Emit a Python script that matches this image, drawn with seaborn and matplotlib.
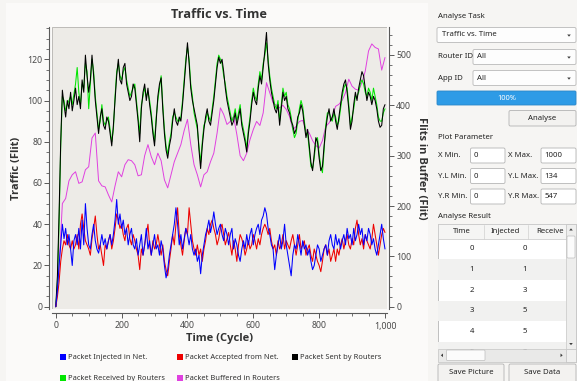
import numpy as np
import pandas as pd
import matplotlib
matplotlib.use("Agg")
import matplotlib.pyplot as plt
import seaborn as sns
from matplotlib.patches import Rectangle, FancyBboxPatch, Polygon
from matplotlib.lines import Line2D
from matplotlib.ticker import MultipleLocator, FuncFormatter

# ---------------- data ----------------
cycles5 = list(range(0, 1001, 5))
cycles10 = list(range(0, 1001, 10))

sent_by_routers = [
    0, 15, 45, 80, 105, 98, 92, 100, 96, 104, 95, 100, 106, 98, 102, 96, 110, 104, 122, 112,
    104, 110, 122, 112, 100, 92, 84, 92, 96, 88, 86, 92, 90, 84, 78, 88, 100, 112, 120, 110,
    108, 116, 118, 108, 104, 100, 102, 108, 106, 98, 90, 80, 96, 104, 108, 100, 106, 98, 92, 84,
    78, 90, 102, 108, 111, 96, 84, 76, 72, 78, 82, 90, 96, 90, 88, 92, 90, 98, 108, 118,
    128, 118, 106, 100, 96, 92, 88, 76, 67, 78, 86, 92, 96, 90, 88, 94, 100, 108, 116, 121,
    118, 120, 114, 106, 100, 96, 92, 88, 90, 94, 88, 92, 96, 88, 84, 80, 75, 84, 90, 98,
    104, 100, 98, 106, 112, 108, 116, 124, 133, 118, 110, 104, 100, 96, 94, 98, 88, 96, 104, 100,
    102, 96, 94, 90, 88, 84, 86, 92, 94, 98, 95, 88, 82, 86, 78, 70, 66, 74, 82, 80,
    72, 66, 68, 78, 86, 92, 96, 90, 92, 96, 90, 86, 92, 98, 104, 108, 110, 104, 96, 86,
    90, 98, 104, 100, 106, 110, 114, 112, 106, 100, 104, 102, 98, 102, 100, 96, 90, 87, 88, 96,
    98]

received_by_routers = [
    0, 12, 40, 78, 102, 100, 95, 98, 100, 102, 98, 103, 108, 116, 104, 98, 108, 106, 118, 114,
    96, 108, 120, 114, 102, 94, 86, 90, 98, 90, 88, 90, 92, 86, 80, 86, 102, 114, 118, 112,
    110, 114, 116, 110, 106, 102, 104, 106, 108, 100, 92, 84, 98, 102, 106, 102, 104, 100, 94, 86,
    80, 92, 100, 106, 112, 98, 86, 78, 74, 80, 84, 92, 94, 92, 90, 90, 92, 100, 110, 120,
    126, 120, 108, 102, 94, 90, 86, 78, 70, 80, 88, 90, 94, 92, 90, 96, 102, 110, 118, 122,
    120, 118, 112, 108, 102, 98, 94, 90, 92, 96, 90, 94, 98, 90, 86, 82, 77, 86, 92, 100,
    106, 102, 100, 108, 114, 110, 118, 122, 128, 120, 112, 106, 102, 98, 96, 100, 90, 98, 106, 102,
    104, 98, 96, 92, 86, 82, 84, 90, 96, 100, 97, 90, 84, 84, 76, 68, 67, 72, 80, 82,
    74, 68, 65, 76, 88, 94, 94, 92, 90, 94, 92, 88, 90, 96, 102, 106, 108, 106, 98, 88,
    92, 96, 102, 102, 104, 108, 110, 108, 104, 102, 106, 104, 100, 106, 102, 98, 92, 90, 90, 94,
    96]

injected_in_net = [
    0, 8, 20, 30, 40, 33, 38, 30, 35, 28, 20, 32, 35, 30, 38, 28, 42, 30, 50, 38,
    30, 28, 35, 40, 32, 28, 26, 30, 35, 30, 33, 28, 32, 35, 30, 35, 42, 52, 40, 45,
    38, 42, 35, 38, 30, 35, 38, 30, 28, 33, 25, 30, 35, 25, 30, 38, 28, 32, 25, 30,
    35, 28, 30, 25, 32, 28, 20, 14, 18, 25, 30, 35, 40, 48, 40, 30, 35, 28, 33, 38,
    35, 30, 35, 28, 25, 28, 22, 25, 16, 25, 30, 35, 38, 42, 36, 40, 46, 40, 35, 38,
    40, 35, 32, 38, 35, 30, 35, 38, 28, 33, 30, 25, 22, 28, 32, 28, 35, 30, 35, 38,
    30, 35, 38, 40, 35, 42, 44, 48, 45, 38, 35, 30, 28, 18, 25, 30, 35, 28, 32, 40,
    30, 25, 20, 15, 25, 30, 28, 35, 30, 25, 32, 28, 30, 25, 28, 22, 18, 20, 25, 30,
    28, 22, 25, 28, 30, 25, 32, 35, 30, 28, 35, 30, 33, 28, 32, 35, 30, 38, 33, 35,
    30, 38, 32, 35, 40, 35, 38, 30, 35, 32, 38, 35, 30, 33, 28, 25, 30, 35, 40, 33,
    28]

accepted_from_net = [
    0, 5, 12, 22, 28, 32, 30, 35, 30, 28, 32, 28, 30, 35, 28, 40, 45, 38, 32, 30,
    28, 25, 33, 38, 44, 35, 28, 30, 25, 20, 30, 28, 32, 35, 28, 32, 38, 45, 42, 38,
    40, 35, 32, 38, 40, 33, 30, 35, 32, 28, 25, 18, 28, 25, 30, 35, 40, 30, 25, 32,
    28, 30, 35, 30, 25, 30, 22, 18, 15, 22, 28, 35, 30, 40, 48, 35, 30, 25, 32, 38,
    35, 48, 40, 32, 28, 25, 30, 25, 28, 22, 28, 32, 38, 35, 40, 42, 38, 35, 30, 33,
    38, 40, 35, 30, 33, 36, 30, 25, 32, 28, 22, 30, 35, 33, 30, 25, 28, 32, 28, 30,
    35, 32, 28, 33, 30, 35, 38, 40, 38, 35, 38, 32, 28, 30, 25, 32, 28, 30, 35, 28,
    32, 30, 28, 32, 35, 30, 25, 30, 35, 28, 30, 32, 25, 28, 30, 25, 22, 28, 25, 22,
    20, 17, 22, 28, 30, 25, 28, 22, 25, 28, 22, 28, 25, 30, 33, 28, 32, 35, 30, 28,
    33, 30, 38, 42, 35, 30, 33, 28, 35, 32, 30, 28, 33, 40, 35, 30, 25, 30, 35, 38,
    36]

buffered_in_routers = [
    0, 80, 205, 215, 250, 262, 268, 245, 248, 272,
    278, 335, 345, 250, 240, 238, 222, 208, 240, 268,
    258, 282, 292, 290, 282, 260, 262, 300, 322, 298,
    282, 305, 290, 252, 236, 262, 288, 305, 322, 350,
    372, 322, 282, 262, 238, 262, 268, 288, 305, 345,
    395, 382, 362, 368, 378, 342, 300, 290, 305, 332,
    352, 368, 360, 385, 445, 425, 405, 400, 395, 400,
    392, 378, 352, 358, 368, 370, 352, 345, 330, 320,
    315, 330, 358, 365, 378, 398, 402, 410, 425, 452,
    438, 432, 430, 445, 468, 508, 522, 515, 512, 470,
    495]

series_labels = ["Packet Injected in Net.", "Packet Accepted from Net.",
                 "Packet Sent by Routers", "Packet Received by Routers",
                 "Packet Buffered in Routers"]
series_colors = ["#0000ff", "#ee0000", "#000000", "#00e600", "#e040e0"]

table_time = ["0", "1", "2", "3", "4", "5"]
table_injected = ["0", "1", "3", "5", "5", "3"]

# ---------------- figure ----------------
sns.set_theme(style="ticks")
plt.rcParams['font.family'] = ['Noto Sans', 'DejaVu Sans']
BOLD_FAMILY = ["Open Sans", "DejaVu Sans"]

W, H = 577, 381
fig = plt.figure(figsize=(W / 100, H / 100), dpi=100, facecolor="#f6f5f3")


def fx(px):
    return px / W


def fy(py):
    return 1 - py / H


fig.patches.append(Rectangle((fx(6), 0), fx(428) - fx(6), fy(3), transform=fig.transFigure,
                             facecolor="#fbfaf9", edgecolor="none", zorder=0))

L, R, T, B = 51.5, 387.3, 27.3, 309.0
ax = fig.add_axes([fx(L), fy(B), (R - L) / W, (B - T) / H])
ax2 = ax.twinx()
ax.set_zorder(3)
ax2.set_zorder(2)
ax.patch.set_visible(False)
ax2.patch.set_visible(True)
ax2.patch.set_facecolor("#edebe7")
ax2.add_patch(Rectangle((0, 0), 1, 1, transform=ax2.transAxes, facecolor="none",
                        edgecolor="#bdbbb8", linewidth=0.7, zorder=0.5))

lw = 0.75
sns.lineplot(x=cycles10, y=buffered_in_routers, ax=ax2, color=series_colors[4], linewidth=0.7)
sns.lineplot(x=cycles5, y=received_by_routers, ax=ax, color=series_colors[3], linewidth=lw, zorder=2)
sns.lineplot(x=cycles5, y=sent_by_routers, ax=ax, color=series_colors[2], linewidth=lw, zorder=3)
sns.lineplot(x=cycles5, y=accepted_from_net, ax=ax, color=series_colors[1], linewidth=lw, zorder=4)
sns.lineplot(x=cycles5, y=injected_in_net, ax=ax, color=series_colors[0], linewidth=lw, zorder=5)

ax.set_xlim(-13, 1007)
ax.set_ylim(-1.1, 135.5)
ax2.set_ylim(-4.6, 555)

spine_c = "#5a5a5a"
for s in ["top", "right"]:
    ax.spines[s].set_visible(False)
for s in ["top", "left", "bottom"]:
    ax2.spines[s].set_visible(False)
ax.spines["left"].set_position(("outward", 1.5))
ax.spines["bottom"].set_position(("outward", 3))
ax2.spines["right"].set_position(("outward", 1.5))
for sp in [ax.spines["left"], ax.spines["bottom"], ax2.spines["right"]]:
    sp.set_color(spine_c)
    sp.set_linewidth(0.8)

ax.xaxis.set_major_locator(MultipleLocator(200))
ax.xaxis.set_minor_locator(MultipleLocator(50))
ax.xaxis.set_major_formatter(FuncFormatter(lambda v, p: f"{int(round(v)):,}"))
ax.yaxis.set_major_locator(MultipleLocator(20))
ax.yaxis.set_minor_locator(MultipleLocator(5))
ax2.yaxis.set_major_locator(MultipleLocator(100))
ax2.yaxis.set_minor_locator(MultipleLocator(20))

tick_kw = dict(direction="out", color=spine_c, labelcolor="#4a4a4a", labelsize=6.3)
ax.tick_params(axis="x", which="major", pad=2.5)
ax.tick_params(axis="y", which="major", pad=1.5)
ax.tick_params(axis="both", which="major", length=3.5, width=0.7, bottom=True, left=True, **tick_kw)
ax.tick_params(axis="both", which="minor", length=2, width=0.6, bottom=True, left=True, color=spine_c)
ax2.tick_params(axis="y", which="major", length=3.5, width=0.7, right=True, left=False, pad=1.5, **tick_kw)
ax2.tick_params(axis="y", which="minor", length=2, width=0.6, right=True, left=False, color=spine_c)

lab_kw = dict(fontsize=8.0, fontweight="bold", color="#333333", family=BOLD_FAMILY)
ax.set_xlabel("Time (Cycle)", **lab_kw)
ax.set_ylabel("Traffic (Flit)", **lab_kw)
ax2.set_ylabel("Flits in Buffer (Flit)", rotation=270, **lab_kw)
ax.xaxis.set_label_coords(0.5, (B - 338) / (B - T))
ax.xaxis.label.set_va("center")
ax.yaxis.set_label_coords((17 - L) / (R - L), 0.5)
ax.yaxis.label.set_va("center")
ax2.yaxis.set_label_coords((422 - L) / (R - L), 0.5)
ax2.yaxis.label.set_va("center")

fig.text(fx((L + R) / 2), fy(14), "Traffic vs. Time", ha="center", va="center",
         fontsize=9.2, fontweight="bold", color="#333333", family=BOLD_FAMILY)

order = [0, 3, 1, 4, 2]
handles = [Line2D([], [], marker="s", linestyle="none", markersize=4.0, markeredgewidth=0,
                  color=series_colors[i]) for i in order]
labels = [series_labels[i] for i in order]
leg = fig.legend(handles, labels, loc="upper left", bbox_to_anchor=(fx(60), fy(354)), ncol=3,
                 frameon=False, fontsize=5.4, handlelength=0.8, handletextpad=0.25,
                 columnspacing=1.65, labelspacing=1.85, borderpad=0, borderaxespad=0)
for t in leg.get_texts():
    t.set_color("#333333")

# ---------------- right-hand control panel ----------------
gui = fig.add_axes([0, 0, 1, 1], zorder=10)
gui.set_xlim(0, W)
gui.set_ylim(H, 0)
gui.axis("off")
gui.patch.set_visible(False)

FS = 5.6
TXT = "#232323"


def box(x0, y0, x1, y1, fc="#fdfdfd", ec="#b9b9b9", lw=0.6, r=1.5, z=1):
    gui.add_patch(FancyBboxPatch((x0, y0), x1 - x0, y1 - y0,
                                 boxstyle=f"round,pad=0,rounding_size={r}",
                                 facecolor=fc, edgecolor=ec, linewidth=lw, zorder=z))


def txt(x, y, s, ha="left", color=TXT, size=FS, z=5):
    gui.text(x, y, s, ha=ha, va="center", fontsize=size, color=color, zorder=z)


def arrow(x, y, d="down", s=2.3, c="#3c3c3c", z=6):
    if d == "down":
        pts = [[x - s, y - s * 0.55], [x + s, y - s * 0.55], [x, y + s * 0.65]]
    elif d == "up":
        pts = [[x - s, y + s * 0.55], [x + s, y + s * 0.55], [x, y - s * 0.65]]
    elif d == "left":
        pts = [[x + s * 0.55, y - s], [x + s * 0.55, y + s], [x - s * 0.65, y]]
    else:
        pts = [[x - s * 0.55, y - s], [x - s * 0.55, y + s], [x + s * 0.65, y]]
    gui.add_patch(Polygon(pts, closed=True, facecolor=c, edgecolor="none", zorder=z))


txt(438, 17, "Analyse Task")
box(437, 27.5, 576, 42.5)
txt(442, 35, "Traffic vs. Time")
arrow(569, 35.5, s=1.8)

txt(438, 57, "Router ID")
box(473, 49.5, 576, 64.5)
txt(477, 57, "All")
arrow(569, 57.5, s=1.8)

txt(438, 78, "App ID")
box(473, 70.5, 576, 85.5)
txt(477, 78, "All")
arrow(569, 78.5, s=1.8)

box(437, 91, 576, 105, fc="#2e9be6", ec="#2a86c8", r=1.2)
txt(507, 98, "100%", ha="center", color="#ffffff", size=5.4)

box(509, 110.5, 576, 126, fc="#f3f2f0", ec="#b3b3b3")
txt(542.5, 118.3, "Analyse", ha="center")

txt(438, 137.5, "Plot Parameter")
rows = [("X Min.", "0", "X Max.", "1000", 155.5),
        ("Y.L Min.", "0", "Y.L Max.", "134", 176),
        ("Y.R Min.", "0", "Y.R Max.", "547", 196.5)]
for l1, v1, l2, v2, yy in rows:
    txt(438, yy, l1)
    box(470.5, yy - 7.5, 505, yy + 7.5, fc="#ffffff", ec="#b5b5b5")
    txt(474, yy, v1)
    txt(508.5, yy, l2)
    box(541, yy - 7.5, 576, yy + 7.5, fc="#ffffff", ec="#b5b5b5")
    txt(544.5, yy, v2)

txt(438, 216.5, "Analyse Result")
# table
gui.add_patch(Rectangle((438, 224), 138, 138, facecolor="#ffffff", edgecolor="#b5b5b5",
                        linewidth=0.6, zorder=1))
gui.add_patch(Rectangle((438, 224), 128, 15, facecolor="#f5f5f4", edgecolor="#c8c8c8",
                        linewidth=0.5, zorder=2))
for xs in [484, 528]:
    gui.plot([xs, xs], [225, 238.5], color="#d0d0d0", lw=0.5, zorder=3)
txt(462, 231.5, "Time", ha="center", z=3)
txt(505, 231.5, "Injected", ha="center", z=3)
txt(536, 231.5, "Receive", ha="left", z=3)
row_top = 238.5
row_h = 20.7
for i, (tv, iv) in enumerate(zip(table_time, table_injected)):
    y0 = row_top + i * row_h
    if i % 2 == 1:
        gui.add_patch(Rectangle((438.4, y0), 127.6, row_h, facecolor="#f1f1f0",
                                edgecolor="none", zorder=1.5))
    yc = y0 + row_h / 2
    txt(474, yc, tv, ha="right", z=2.5)
    txt(527, yc, iv, ha="right", z=2.5)
# vertical scrollbar
gui.add_patch(Rectangle((566, 224), 10, 125, facecolor="#eeeeed", edgecolor="#c4c4c4",
                        linewidth=0.5, zorder=4))
box(567, 236, 575, 258, fc="#fbfbfb", ec="#bdbdbd", lw=0.5, r=1, z=5)
arrow(571, 229.5, d="up", s=1.8)
arrow(571, 344, d="down", s=1.8)
# horizontal scrollbar
gui.add_patch(Rectangle((438, 349), 128, 12.5, facecolor="#e9e9e8", edgecolor="#c4c4c4",
                        linewidth=0.5, zorder=4))
box(446.5, 350, 485, 360.5, fc="#fbfbfb", ec="#bdbdbd", lw=0.5, r=1, z=5)
arrow(442, 355.3, d="left", s=1.8)
arrow(561.5, 355.3, d="right", s=1.8)
gui.add_patch(Rectangle((566, 349), 10, 12.5, facecolor="#f0f0ef", edgecolor="#c4c4c4",
                        linewidth=0.5, zorder=4))

box(438, 364, 504, 383, fc="#f3f2f0", ec="#b3b3b3")
txt(471, 372.5, "Save Picture", ha="center")
box(509, 364, 576, 383, fc="#f3f2f0", ec="#b3b3b3")
txt(542.5, 372.5, "Save Data", ha="center")

fig.savefig("out.png", dpi=100, facecolor=fig.get_facecolor())
